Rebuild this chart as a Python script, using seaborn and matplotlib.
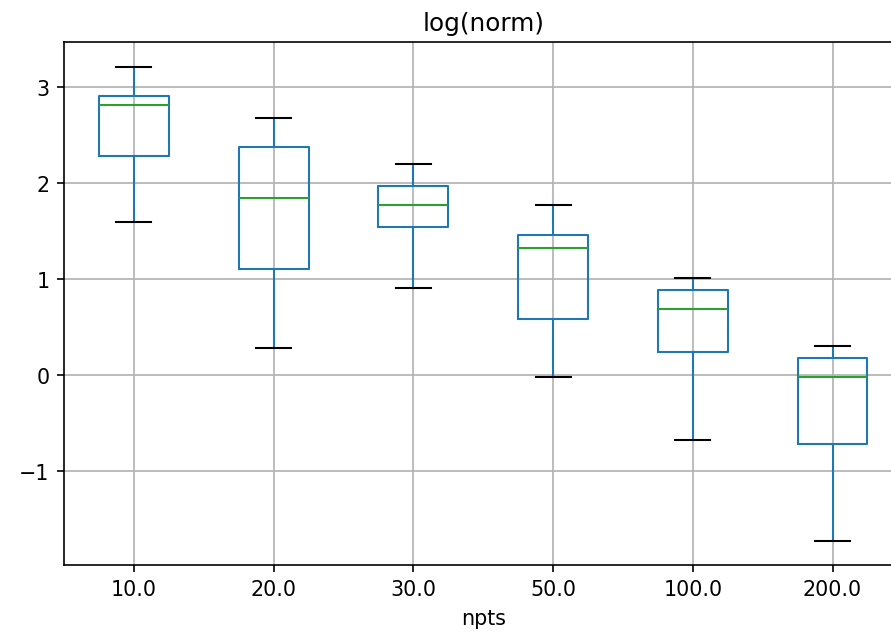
import pandas as pd
import matplotlib.pyplot as plt
import seaborn as sns

npts = ['10.0', '20.0', '30.0', '50.0', '100.0', '200.0']
whisker_low = [1.59, 0.28, 0.91, -0.02, -0.68, -1.73]
q1 = [2.28, 1.11, 1.54, 0.58, 0.24, -0.72]
median = [2.81, 1.85, 1.77, 1.32, 0.69, -0.02]
q3 = [2.91, 2.375, 1.97, 1.46, 0.885, 0.18]
whisker_high = [3.21, 2.68, 2.20, 1.77, 1.01, 0.30]


def build_frame():
    """Five points per group give exactly these quartiles and whisker ends"""
    rows = []
    for i, n in enumerate(npts):
        for v in (whisker_low[i], q1[i], median[i], q3[i], whisker_high[i]):
            rows.append({'npts': n, 'log(norm)': v})
    return pd.DataFrame(rows)


def main():
    df = build_frame()

    fig = plt.figure(figsize=(6.0, 4.343), dpi=148.5)
    # axes run past the right edge of the canvas, like the cropped original
    ax = fig.add_axes([0.0718, 0.1225, 0.941, 0.8108])

    sns.boxplot(data=df, x='npts', y='log(norm)', order=npts, ax=ax,
                fill=False, color='#1f77b4', width=0.5, linewidth=1.0,
                showfliers=False,
                medianprops={'color': '#2ca02c'},
                capprops={'color': 'black'})

    ax.set_xlim(-0.5, len(npts) - 0.5)
    ax.grid(True, color='#b0b0b0', linewidth=0.8)
    ax.set_axisbelow(True)
    ax.spines['right'].set_visible(False)
    ax.set_title('log(norm)', fontsize=12)
    ax.set_xlabel('npts', fontsize=10)
    ax.set_ylabel('')
    ax.set_yticks([-1, 0, 1, 2, 3])
    ax.set_ylim(-1.98, 3.47)

    fig.savefig('out.png', dpi=148.5)
    plt.close(fig)


if __name__ == "__main__":
    main()
